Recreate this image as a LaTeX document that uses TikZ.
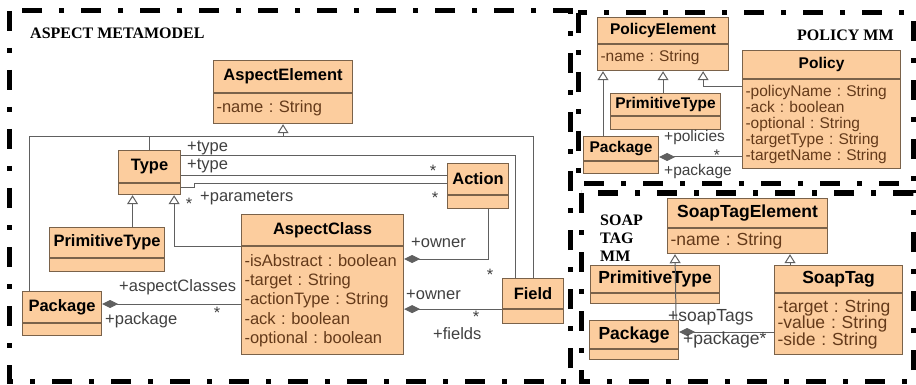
\documentclass[tikz,border=0pt]{standalone}
\usepackage{fontspec}
\setmainfont{Liberation Serif}
\setsansfont{Liberation Sans}
\usetikzlibrary{arrows.meta}
\definecolor{umlfill}{RGB}{252,205,158}
\definecolor{umlborder}{RGB}{122,98,74}
\definecolor{attrtext}{RGB}{100,58,26}
\definecolor{linkgray}{RGB}{96,96,96}
\definecolor{lblgray}{RGB}{64,64,64}
\newcommand{\regionsize}{\fontsize{16.5}{19.2}\selectfont}
\tikzset{
  classhead/.style={draw=umlborder, fill=umlfill, line width=1.1pt, inner sep=0pt,
    anchor=north west, font=\sffamily\bfseries\regionsize},
  classbody/.style={draw=umlborder, fill=umlfill, line width=1.1pt, inner xsep=3pt,
    inner ysep=0pt, anchor=north west, align=left, text=attrtext, font=\sffamily\regionsize},
  link/.style={draw=linkgray, line width=1pt},
  genlink/.style={link, -{Triangle[open, length=9pt, width=11pt]}},
  complink/.style={link, -{Diamond[length=16pt, width=8pt]}},
  lbl/.style={font=\sffamily\regionsize, text=lblgray, inner sep=0pt, anchor=west},
  star/.style={lbl, anchor=center},
  mmtitle/.style={font=\rmfamily\bfseries\fontsize{16}{18}\selectfont, inner sep=0pt,
    anchor=west, align=left},
  mmframe/.style={line width=5pt, dash pattern=on 20pt off 17pt on 5pt off 17pt},
}
% name, x, y, width, head height, body height, title, attributes
\newcommand{\umlclass}[8]{%
  \pgfmathsetmacro{\bodytw}{#4-6}
  \node[classhead, minimum width=#4pt, minimum height=#5pt] (#1) at (#2,#3) {#7};
  \node[classbody, text width=\bodytw pt, minimum height=#6pt] (#1b) at (#1.south west) {#8};
}
\begin{document}
\frenchspacing
\begin{tikzpicture}[x=1pt, y=-1pt]
  \useasboundingbox (0,0) rectangle (916,385);
  % frames
  \draw[mmframe] (9,11) rectangle (570,381);
  \draw[mmframe] (578,13) rectangle (913,184);
  \draw[mmframe] (581,193) rectangle (913,381);

  % aspect metamodel
  \node[mmtitle] (aspecttitle) at (30,33) {ASPECT METAMODEL};
  \umlclass{ae}{213}{60}{139}{32}{30}{AspectElement}{-name : String}
  \umlclass{type}{118}{150}{62}{32}{11}{Type}{}
  \umlclass{act}{447}{163}{61}{31}{13}{Action}{}
  \umlclass{ac}{241}{214}{162}{31}{108}{AspectClass}{-isAbstract : boolean\\-target : String\\-actionType : String\\-ack : boolean\\-optional : boolean}
  \umlclass{pt}{49}{227}{115}{30}{13}{PrimitiveType}{}
  \umlclass{pkg}{22}{291}{79}{31}{12}{Package}{}
  \umlclass{fld}{502}{278}{61}{30}{14}{Field}{}

  \coordinate (bus) at (0,137);
  \draw[link] ([xshift=7pt]pkg.north west) |- (bus -| fld.north) -- (fld.north);
  \draw[link] (type.north) -- (type.north |- bus);
  \draw[genlink] (aeb.south |- bus) -- (aeb.south);

  \draw[link] (type.east |- 0,156) -| ([xshift=-18pt]fld.north);
  \node[lbl] (typelbl1) at (187,148) {+type};
  \node[star] (fldstar1) at (490,275) {*};
  \draw[link] (type.east |- 0,176) -- (act.west |- 0,176);
  \node[lbl] (typelbl2) at (187,166) {+type};
  \node[star] (actstar1) at (433,171) {*};
  \draw[link] (type.east |- 0,188) -- ++(13,0) |- (act.west |- 0,184);
  \node[star] (typestar) at (189,204) {*};
  \node[lbl] (paramlbl) at (200,198) {+parameters};
  \node[star] (actstar2) at (435,198) {*};

  \draw[complink] ([xshift=10pt]actb.south) |- (acb.east |- 0,259);
  \node[lbl] (ownerlbl1) at (411,243) {+owner};
  \draw[complink] (fldb.north west) -- (acb.east |- fldb.north west);
  \node[lbl] (ownerlbl2) at (406,295) {+owner};
  \node[star] (fldstar2) at (476,317) {*};
  \node[lbl] (fieldslbl) at (433,334) {+fields};

  \draw[complink] (acb.west |- 0,304) -- (pkg.east |- 0,304);
  \node[lbl] (aclbl) at (119,287) {+aspectClasses};
  \node[star] (acstar) at (217,313) {*};
  \node[lbl] (pkglbl) at (105,320) {+package};

  \draw[genlink] (acb.north west) -| ([xshift=-7pt]typeb.south east);
  \coordinate (ptgen) at ([xshift=-17pt]typeb.south);
  \draw[genlink] (pt.north -| ptgen) -- (ptgen);

  % policy mm
  \begin{scope}
    \renewcommand{\regionsize}{\fontsize{15.5}{16}\selectfont}
    \node[mmtitle] (policytitle) at (797,35) {POLICY MM};
    \umlclass{pe}{597}{17}{131}{26}{26}{PolicyElement}{-name : String}
    \umlclass{pol}{742}{50}{158}{28}{89}{Policy}{-policyName : String\\-ack : boolean\\-optional : String\\-targetType : String\\-targetName : String}
    \umlclass{ppt}{610}{93}{110}{22}{13}{PrimitiveType}{}
    \umlclass{ppkg}{583}{136}{75}{24}{12}{Package}{}

    \draw[genlink] ([xshift=20pt]ppkg.north west) -- ([xshift=6pt]peb.south west);
    \draw[genlink] (ppt.north -| peb.south) -- (peb.south);
    \draw[genlink] (polb.west |- 0,87) -| ([xshift=-26pt]peb.south east);
    \draw[complink] (polb.west |- 0,157) -- (ppkg.east |- 0,157);
    \node[lbl] (policieslbl) at (664,137) {+policies};
    \node[star] (polstar) at (717,155) {*};
    \node[lbl] (ppkglbl) at (664,171) {+package};
  \end{scope}

  % soap tag mm
  \begin{scope}
    \renewcommand{\regionsize}{\fontsize{17.5}{16.5}\selectfont}
    \node[mmtitle] (soaptitle) at (600,238) {SOAP\\TAG\\MM};
    \umlclass{ste}{667}{198}{160}{29}{25}{SoapTagElement}{-name : String}
    \umlclass{spt}{590}{265}{129}{27}{10}{PrimitiveType}{}
    \umlclass{st}{774}{265}{128}{27}{61}{SoapTag}{-target : String\\-value : String\\-side : String}
    \umlclass{spkg}{589}{320}{89}{28}{10}{Package}{}

    \draw[genlink] ([xshift=-3pt]spkg.north east) -- ([xshift=8pt]steb.south west);
    \coordinate (stgen) at ([xshift=16pt]st.north west);
    \draw[genlink] (stgen) -- (stgen |- steb.south);
    \draw[complink] (st.west |- 0,332) -- (spkg.east |- 0,332);
    \node[lbl] (soaptagslbl) at (668,317) {+soapTags};
    \node[lbl] (spkglbl) at (683,340) {+package*};
  \end{scope}
\end{tikzpicture}
\end{document}
